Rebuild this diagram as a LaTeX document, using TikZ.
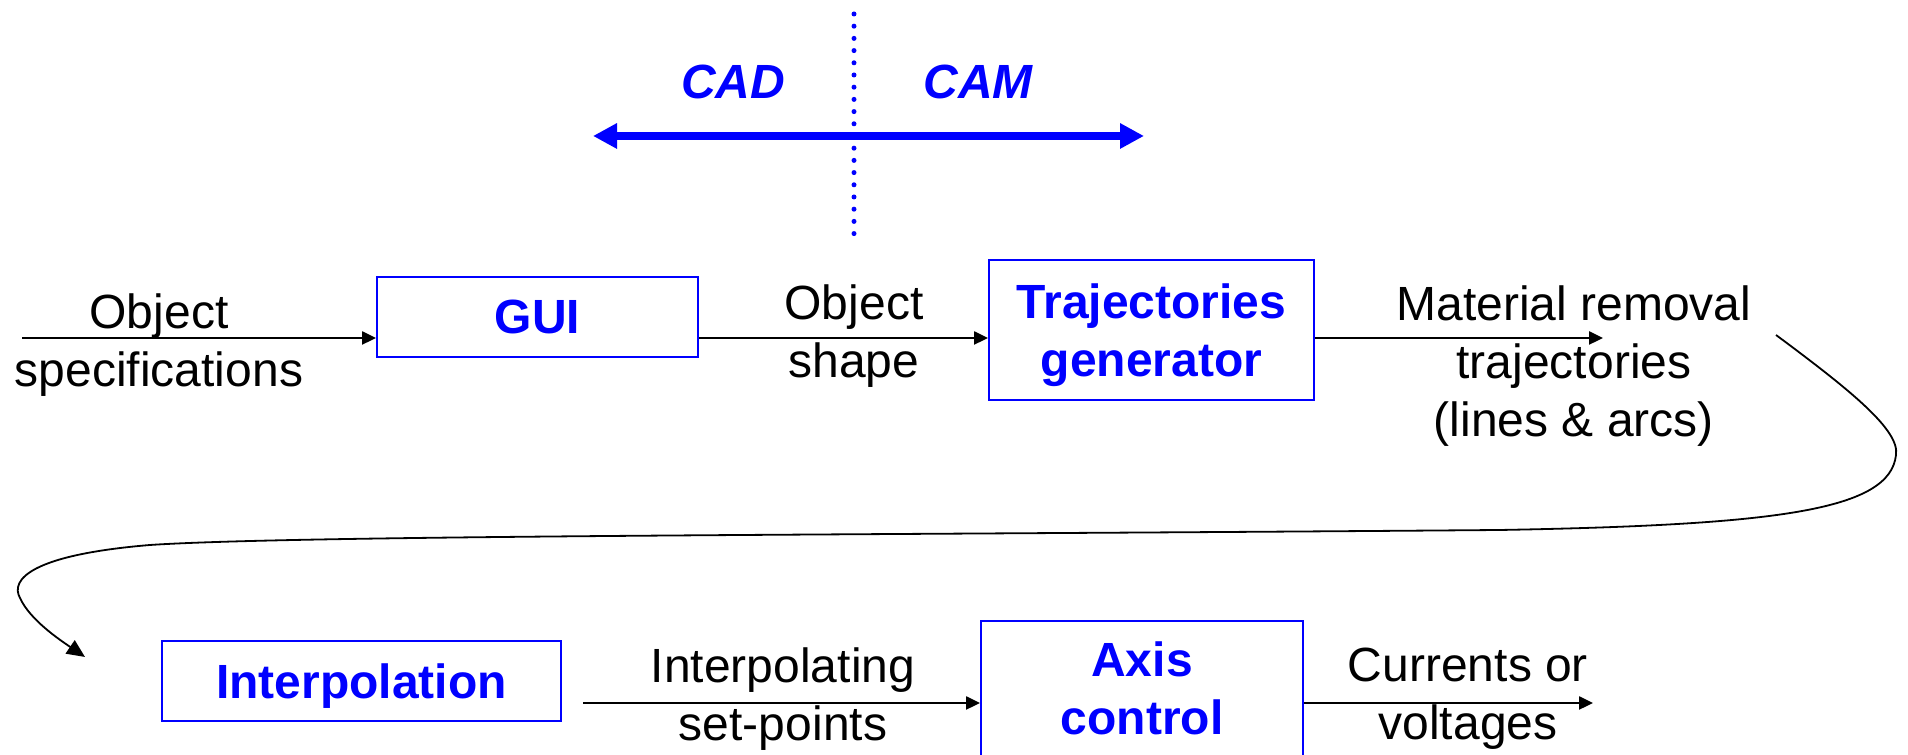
\documentclass[tikz,border=0pt,12pt]{standalone}
\usepackage{fontspec}
\setmainfont{Liberation Sans}
\usetikzlibrary{arrows.meta}

\begin{document}
\begin{tikzpicture}[x=0.25pt,y=-0.25pt,
    blk/.style={draw=blue,line width=0.5pt,text=blue,font=\bfseries,align=center,inner sep=0pt},
    lbl/.style={align=center,inner sep=0pt},
    flow/.style={line width=0.45pt,-{Triangle[length=3.5pt,width=3.3pt]}}]
\useasboundingbox (0,0) rectangle (1908,755);
\clip (0,0) rectangle (1908,755);

% CAD / CAM split
\draw[blue,line width=1.25pt,line cap=round,dash pattern=on 0pt off 3.05pt] (854,14) -- (854,234);
\draw[blue,line width=1.9pt,{Triangle[length=6pt,width=6pt]}-{Triangle[length=6pt,width=6pt]}] (593,136) -- (1144,136);
\node[text=blue,font=\bfseries\itshape] (cad) at (733,82) {CAD};
\node[text=blue,font=\bfseries\itshape] (cam) at (978,82) {CAM};

% blocks
\node[blk,minimum width=80.25pt,minimum height=20pt] (gui) at (537.5,317) {GUI};
\node[blk,minimum width=81.25pt,minimum height=35pt,text depth=0pt] (traj) at (1151.5,330) {Trajectories\\generator};
\node[blk,minimum width=99.75pt,minimum height=20pt,text depth=0pt] (interp) at (361.5,681) {Interpolation};
\node[blk,minimum width=80.5pt,anchor=north,inner ysep=5.25pt] (axis) at (1142,620) {Axis\\control\rule[-30pt]{0pt}{0pt}};

% signals
\node[lbl] (spec) at (159,345) {Object\\specifications};
\node[lbl] (shape) at (854,336.5) {Object\\shape};
\node[lbl] (mrt) at (1574,366) {Material removal\\trajectories\\(lines \& arcs)};
\node[lbl] (setp) at (783,699) {Interpolating\\set-points};
\node[lbl] (volt) at (1468,699) {Currents or\\voltages};

\coordinate (in) at (22,338);
\coordinate (out1) at (1603,338);
\draw[flow] (in) -- (in -| gui.west);
\draw[flow] (gui.east |- in) -- (traj.west |- in);
\draw[flow] (traj.east |- in) -- (out1);

\coordinate (from2) at (583,703);
\coordinate (out2) at (1593,703);
\draw[flow] (from2) -- (from2 -| axis.west);
\draw[flow] (axis.east |- from2) -- (out2);

% wrap around to the second row
\coordinate (turn) at (1776,335);
\coordinate (back) at (85,657);
\draw[line width=0.45pt,-{Triangle[length=4.5pt,width=4pt]}] (turn)
    .. controls (1850,390) and (1900,430) .. (1896,455)
    .. controls (1890,510) and (1780,525) .. (1500,530)
    .. controls (900,535) and (300,535) .. (150,545)
    .. controls (30,555) and (10,580) .. (20,598)
    .. controls (30,620) and (60,640) .. (back);
\end{tikzpicture}
\end{document}
